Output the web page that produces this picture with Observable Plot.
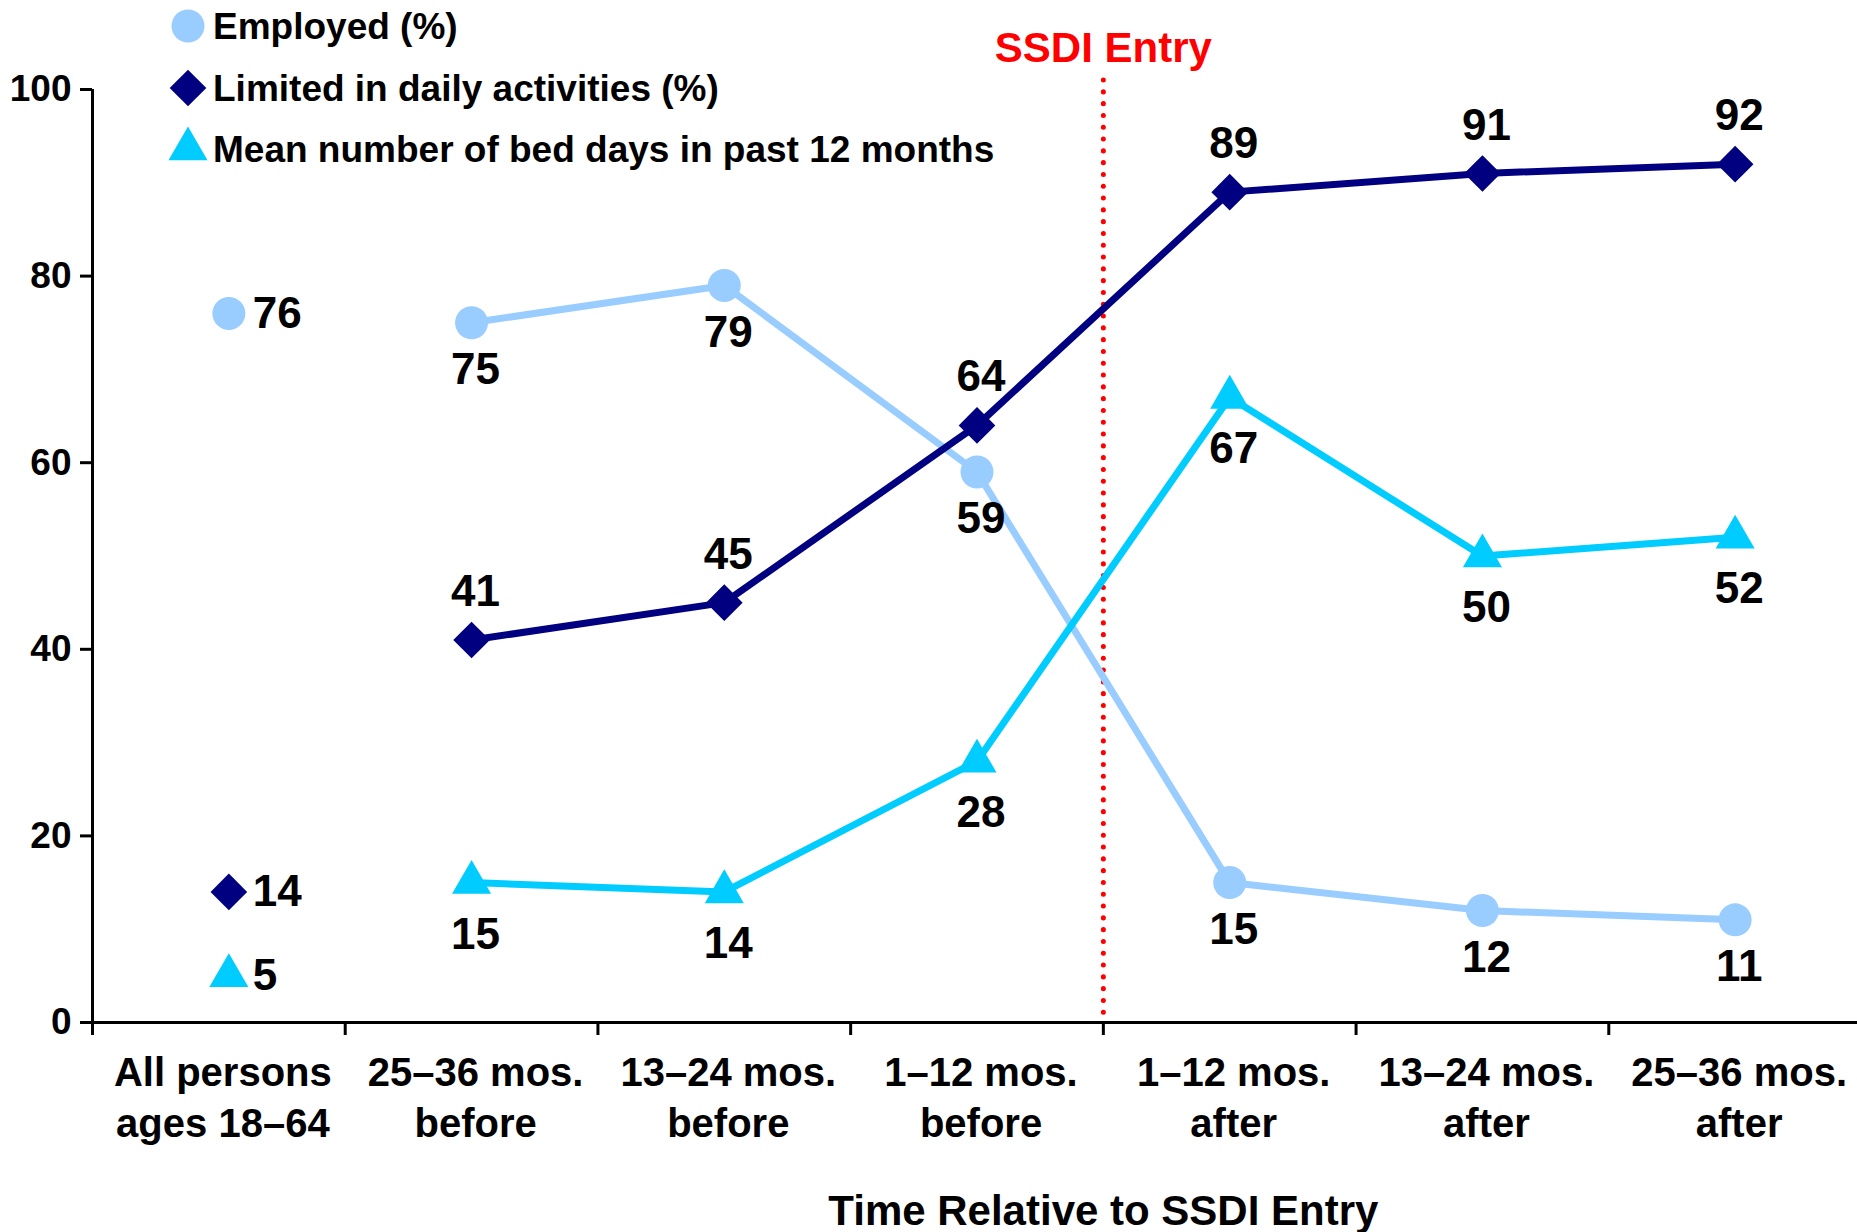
<!DOCTYPE html>
<html><head><meta charset="utf-8">
<script src="https://cdn.jsdelivr.net/npm/d3@7"></script>
<script src="https://cdn.jsdelivr.net/npm/@observablehq/plot@0.6"></script>
<style>
body{margin:0;background:#fff;}
#wrap{position:relative;width:1857px;height:1232px;font-family:"Liberation Sans",Arial,sans-serif;font-weight:bold;overflow:hidden;}
#legend{position:absolute;left:0;top:0;width:0;height:0;}
.row{position:absolute;display:flex;align-items:center;white-space:nowrap;font-size:37px;color:#000;line-height:1;}
.row svg{display:block;overflow:visible;}
</style></head><body><div id="wrap"><div id="chart"></div><div id="legend"></div></div>
<script>
const categories = ["All persons\nages 18–64", "25–36 mos.\nbefore", "13–24 mos.\nbefore", "1–12 mos.\nbefore", "1–12 mos.\nafter", "13–24 mos.\nafter", "25–36 mos.\nafter"];
const employed = [76, 75, 79, 59, 15, 12, 11];
const limited = [14, 41, 45, 64, 89, 91, 92];
const bedDays = [5, 15, 14, 28, 67, 50, 52];
const yTicks = [0, 20, 40, 60, 80, 100];
const seriesNames = ["Employed (%)", "Limited in daily activities (%)", "Mean number of bed days in past 12 months"];
const seriesColors = ["#99CCFF", "#000080", "#00CCFF"];
const seriesSymbols = ["circle", "diamond2", "triangle"];
const seriesRadius = [16.5, 16.5, 14.5];
const labelDy = [47, -48, 52];
const entryLabel = "SSDI Entry";
const xTitle = "Time Relative to SSDI Entry";

const seriesValues = [employed, limited, bedDays];
const rows = [];
seriesValues.forEach((vals, s) => vals.forEach((v, i) => rows.push({series: seriesNames[s], s, i, value: v})));

const idx = d3.range(categories.length);
const bounds = d3.range(categories.length + 1).map(k => k - 0.5);
const entryPos = 3.5;

const marks = [
  Plot.ruleY([0], {strokeWidth: 3}),
  Plot.ruleX([bounds[0]], {strokeWidth: 3}),
  Plot.axisY(yTicks, {tickSize: 12, tickPadding: 9, fontSize: 37, fontWeight: "bold", strokeWidth: 3}),
  Plot.axisX(bounds, {tickSize: 13, tickFormat: () => "", strokeWidth: 3}),
  Plot.axisX(idx, {tickSize: 0, tickPadding: 28, dx: 4, tickFormat: i => categories[i], fontSize: 40, fontWeight: "bold", lineHeight: 1.26}),
  Plot.ruleX([entryPos], {stroke: "#FF0000", strokeWidth: 5, strokeDasharray: "0.1 11.7", strokeLinecap: "round", insetTop: -9}),
  Plot.text([{x: entryPos, t: entryLabel}], {x: "x", text: "t", frameAnchor: "top", dy: -57, fill: "#FF0000", fontSize: 42, fontWeight: "bold"}),
  Plot.text([{x: entryPos, t: xTitle}], {x: "x", text: "t", frameAnchor: "bottom", dy: 202, fill: "#000", fontSize: 42, fontWeight: "bold"})
];

seriesNames.forEach((name, s) => {
  const later = rows.filter(d => d.s === s && d.i > 0);
  marks.push(Plot.line(later, {x: "i", y: "value", stroke: seriesColors[s], strokeWidth: 7}));
});
seriesNames.forEach((name, s) => {
  const later = rows.filter(d => d.s === s && d.i > 0);
  const first = rows.filter(d => d.s === s && d.i === 0);
  marks.push(Plot.dot(later, {x: "i", y: "value", fill: seriesColors[s], symbol: seriesSymbols[s], r: seriesRadius[s]}));
  marks.push(Plot.dot(first, {x: "i", y: "value", dx: 10, fill: seriesColors[s], symbol: seriesSymbols[s], r: seriesRadius[s]}));
  marks.push(Plot.text(later, {x: "i", y: "value", text: "value", dx: 4, dy: labelDy[s], fontSize: 44, fontWeight: "bold", fill: "#000"}));
  marks.push(Plot.text(first, {x: "i", y: "value", text: "value", dx: 34, textAnchor: "start", fontSize: 44, fontWeight: "bold", fill: "#000"}));
});

const chart = Plot.plot({
  width: 1857, height: 1232,
  marginLeft: 92, marginRight: -4, marginTop: 89, marginBottom: 210,
  x: {domain: [bounds[0], bounds[bounds.length - 1]], label: null},
  y: {domain: [0, 100], label: null},
  style: {fontFamily: "'Liberation Sans', Arial, sans-serif", fontWeight: "bold", background: "#fff", overflow: "visible"},
  marks
});
document.getElementById("chart").appendChild(chart);

// legend overlay
const legend = d3.select("#legend");
const legendTop = [26, 88, 149];
const symbolMap = {circle: d3.symbolCircle, diamond2: d3.symbolDiamond2, triangle: d3.symbolTriangle};
seriesNames.forEach((name, s) => {
  const row = legend.append("div").attr("class", "row").style("left", "170px").style("top", (legendTop[s] - 20) + "px").style("height", "40px");
  const svg = row.append("svg").attr("width", 36).attr("height", 40);
  const r = seriesRadius[s];
  svg.append("path").attr("transform", "translate(18,20)")
    .attr("d", d3.symbol(symbolMap[seriesSymbols[s]], Math.PI * r * r)()).attr("fill", seriesColors[s]);
  row.append("span").style("margin-left", "7px").text(name);
});
</script></body></html>
